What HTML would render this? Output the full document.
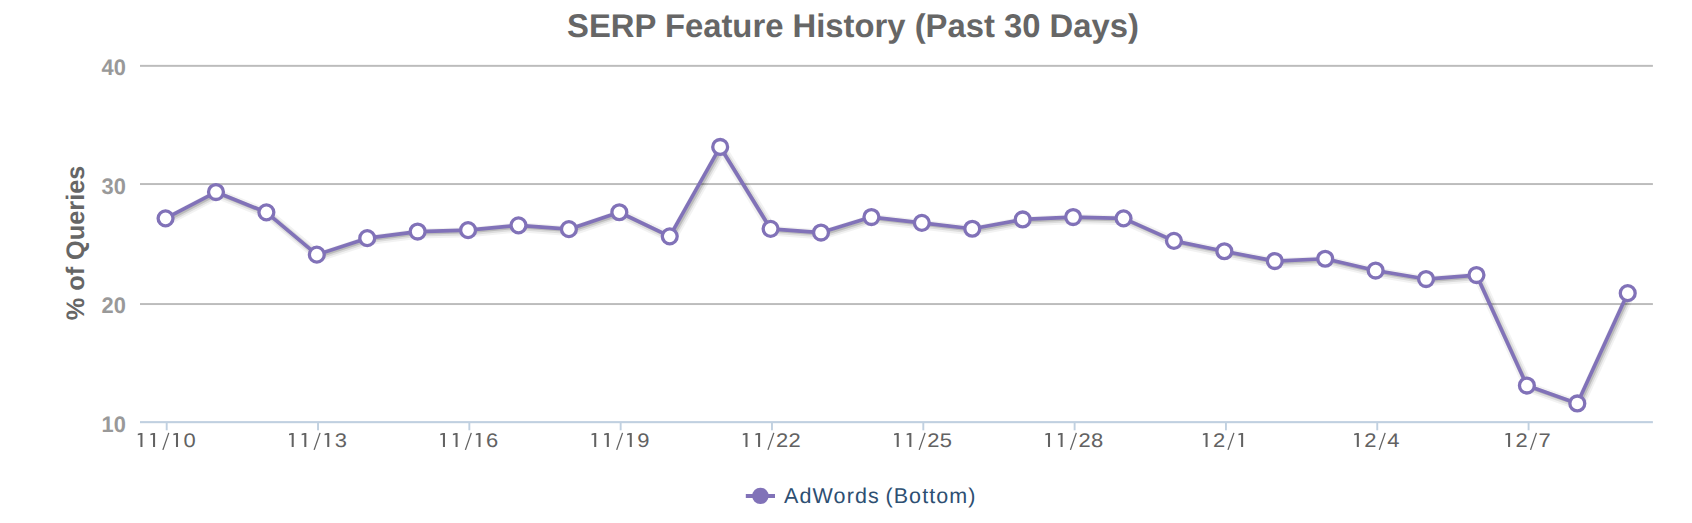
<!DOCTYPE html>
<html><head><meta charset="utf-8"><title>SERP Feature History</title>
<style>
html,body{margin:0;padding:0;background:#fff;}
body{width:1692px;height:523px;overflow:hidden;font-family:"Liberation Sans",sans-serif;}
svg{display:block;}
text{font-family:"Liberation Sans",sans-serif;text-rendering:geometricPrecision;}
</style></head><body>
<svg width="1692" height="523" viewBox="0 0 1692 523">
<rect width="1692" height="523" fill="#ffffff"/>
<rect x="140" y="64.87" width="1512.9" height="1.96" fill="#bcbcbc"/>
<rect x="140" y="183.07" width="1512.9" height="1.96" fill="#bcbcbc"/>
<rect x="140" y="303.07" width="1512.9" height="1.96" fill="#bcbcbc"/>
<rect x="140" y="421.1" width="1512.9" height="2.1" fill="#c0d0e0"/>
<rect x="165.75" y="423" width="1.9" height="7.3" fill="#c0d0e0"/>
<rect x="317.07" y="423" width="1.9" height="7.3" fill="#c0d0e0"/>
<rect x="468.39" y="423" width="1.9" height="7.3" fill="#c0d0e0"/>
<rect x="619.71" y="423" width="1.9" height="7.3" fill="#c0d0e0"/>
<rect x="771.03" y="423" width="1.9" height="7.3" fill="#c0d0e0"/>
<rect x="922.35" y="423" width="1.9" height="7.3" fill="#c0d0e0"/>
<rect x="1073.67" y="423" width="1.9" height="7.3" fill="#c0d0e0"/>
<rect x="1224.99" y="423" width="1.9" height="7.3" fill="#c0d0e0"/>
<rect x="1376.31" y="423" width="1.9" height="7.3" fill="#c0d0e0"/>
<rect x="1527.63" y="423" width="1.9" height="7.3" fill="#c0d0e0"/>
<text x="853" y="37.3" text-anchor="middle" font-size="32.8" font-weight="bold" fill="#666666">SERP Feature History (Past 30 Days)</text>
<text transform="translate(125.9,75) scale(0.975,1)" text-anchor="end" font-size="22.4" font-weight="bold" fill="#999999">40</text>
<text transform="translate(125.9,194) scale(0.975,1)" text-anchor="end" font-size="22.4" font-weight="bold" fill="#999999">30</text>
<text transform="translate(125.9,313) scale(0.975,1)" text-anchor="end" font-size="22.4" font-weight="bold" fill="#999999">20</text>
<text transform="translate(125.9,432) scale(0.975,1)" text-anchor="end" font-size="22.4" font-weight="bold" fill="#999999">10</text>
<text transform="translate(83.5,243.0) rotate(-90)" text-anchor="middle" font-size="25.3" font-weight="bold" fill="#666666">% of Queries</text>
<path d="M 140.42 432.9 H 142.47 V 447 H 140.42 V 434.7 L 137.77 435.2 V 433.7 Z" fill="#626262"/>
<path d="M 153.03 432.9 H 155.08 V 447 H 153.03 V 434.7 L 150.38 435.2 V 433.7 Z" fill="#626262"/>
<path d="M 168.79 432.9 L 162.89 449.9" stroke="#626262" stroke-width="1.3" fill="none"/>
<path d="M 175.97 432.9 H 178.02 V 447 H 175.97 V 434.7 L 173.32 435.2 V 433.7 Z" fill="#626262"/>
<text transform="translate(189.63,447) scale(1.12,1)" text-anchor="middle" font-size="19.6" fill="#626262">0</text>
<path d="M 291.67 432.9 H 293.72 V 447 H 291.67 V 434.7 L 289.02 435.2 V 433.7 Z" fill="#626262"/>
<path d="M 304.28 432.9 H 306.33 V 447 H 304.28 V 434.7 L 301.63 435.2 V 433.7 Z" fill="#626262"/>
<path d="M 320.05 432.9 L 314.14 449.9" stroke="#626262" stroke-width="1.3" fill="none"/>
<path d="M 327.22 432.9 H 329.27 V 447 H 327.22 V 434.7 L 324.57 435.2 V 433.7 Z" fill="#626262"/>
<text transform="translate(340.89,447) scale(1.12,1)" text-anchor="middle" font-size="19.6" fill="#626262">3</text>
<path d="M 442.93 432.9 H 444.98 V 447 H 442.93 V 434.7 L 440.28 435.2 V 433.7 Z" fill="#626262"/>
<path d="M 455.54 432.9 H 457.59 V 447 H 455.54 V 434.7 L 452.89 435.2 V 433.7 Z" fill="#626262"/>
<path d="M 471.31 432.9 L 465.40 449.9" stroke="#626262" stroke-width="1.3" fill="none"/>
<path d="M 478.48 432.9 H 480.53 V 447 H 478.48 V 434.7 L 475.83 435.2 V 433.7 Z" fill="#626262"/>
<text transform="translate(492.15,447) scale(1.12,1)" text-anchor="middle" font-size="19.6" fill="#626262">6</text>
<path d="M 594.19 432.9 H 596.24 V 447 H 594.19 V 434.7 L 591.54 435.2 V 433.7 Z" fill="#626262"/>
<path d="M 606.80 432.9 H 608.85 V 447 H 606.80 V 434.7 L 604.15 435.2 V 433.7 Z" fill="#626262"/>
<path d="M 622.56 432.9 L 616.66 449.9" stroke="#626262" stroke-width="1.3" fill="none"/>
<path d="M 629.75 432.9 H 631.79 V 447 H 629.75 V 434.7 L 627.09 435.2 V 433.7 Z" fill="#626262"/>
<text transform="translate(643.41,447) scale(1.12,1)" text-anchor="middle" font-size="19.6" fill="#626262">9</text>
<path d="M 745.45 432.9 H 747.50 V 447 H 745.45 V 434.7 L 742.80 435.2 V 433.7 Z" fill="#626262"/>
<path d="M 758.06 432.9 H 760.11 V 447 H 758.06 V 434.7 L 755.41 435.2 V 433.7 Z" fill="#626262"/>
<path d="M 773.82 432.9 L 767.92 449.9" stroke="#626262" stroke-width="1.3" fill="none"/>
<text transform="translate(782.06,447) scale(1.12,1)" text-anchor="middle" font-size="19.6" fill="#626262">2</text>
<text transform="translate(794.67,447) scale(1.12,1)" text-anchor="middle" font-size="19.6" fill="#626262">2</text>
<path d="M 896.71 432.9 H 898.76 V 447 H 896.71 V 434.7 L 894.06 435.2 V 433.7 Z" fill="#626262"/>
<path d="M 909.32 432.9 H 911.37 V 447 H 909.32 V 434.7 L 906.67 435.2 V 433.7 Z" fill="#626262"/>
<path d="M 925.08 432.9 L 919.18 449.9" stroke="#626262" stroke-width="1.3" fill="none"/>
<text transform="translate(933.32,447) scale(1.12,1)" text-anchor="middle" font-size="19.6" fill="#626262">2</text>
<text transform="translate(945.93,447) scale(1.12,1)" text-anchor="middle" font-size="19.6" fill="#626262">5</text>
<path d="M 1047.98 432.9 H 1050.03 V 447 H 1047.98 V 434.7 L 1045.33 435.2 V 433.7 Z" fill="#626262"/>
<path d="M 1060.59 432.9 H 1062.63 V 447 H 1060.59 V 434.7 L 1057.93 435.2 V 433.7 Z" fill="#626262"/>
<path d="M 1076.34 432.9 L 1070.44 449.9" stroke="#626262" stroke-width="1.3" fill="none"/>
<text transform="translate(1084.58,447) scale(1.12,1)" text-anchor="middle" font-size="19.6" fill="#626262">2</text>
<text transform="translate(1097.19,447) scale(1.12,1)" text-anchor="middle" font-size="19.6" fill="#626262">8</text>
<path d="M 1205.54 432.9 H 1207.59 V 447 H 1205.54 V 434.7 L 1202.89 435.2 V 433.7 Z" fill="#626262"/>
<text transform="translate(1219.21,447) scale(1.12,1)" text-anchor="middle" font-size="19.6" fill="#626262">2</text>
<path d="M 1233.91 432.9 L 1228.01 449.9" stroke="#626262" stroke-width="1.3" fill="none"/>
<path d="M 1241.09 432.9 H 1243.14 V 447 H 1241.09 V 434.7 L 1238.44 435.2 V 433.7 Z" fill="#626262"/>
<path d="M 1356.80 432.9 H 1358.85 V 447 H 1356.80 V 434.7 L 1354.15 435.2 V 433.7 Z" fill="#626262"/>
<text transform="translate(1370.47,447) scale(1.12,1)" text-anchor="middle" font-size="19.6" fill="#626262">2</text>
<path d="M 1385.17 432.9 L 1379.27 449.9" stroke="#626262" stroke-width="1.3" fill="none"/>
<text transform="translate(1393.40,447) scale(1.12,1)" text-anchor="middle" font-size="19.6" fill="#626262">4</text>
<path d="M 1508.06 432.9 H 1510.11 V 447 H 1508.06 V 434.7 L 1505.41 435.2 V 433.7 Z" fill="#626262"/>
<text transform="translate(1521.73,447) scale(1.12,1)" text-anchor="middle" font-size="19.6" fill="#626262">2</text>
<path d="M 1536.43 432.9 L 1530.53 449.9" stroke="#626262" stroke-width="1.3" fill="none"/>
<text transform="translate(1544.66,447) scale(1.12,1)" text-anchor="middle" font-size="19.6" fill="#626262">7</text>
<path d="M 165.55 218.35 L 215.97 192.05 L 266.39 212.35 L 316.81 254.65 L 367.23 238.15 L 417.65 231.55 L 468.07 230.15 L 518.49 225.35 L 568.91 229.15 L 619.33 212.25 L 669.75 236.35 L 720.17 146.95 L 770.59 228.85 L 821.01 232.55 L 871.43 217.05 L 921.85 222.85 L 972.27 228.75 L 1022.69 219.45 L 1073.11 217.05 L 1123.53 218.35 L 1173.95 240.85 L 1224.37 251.25 L 1274.79 261.05 L 1325.21 258.75 L 1375.63 270.55 L 1426.05 279.05 L 1476.47 275.05 L 1526.89 385.55 L 1577.31 403.45 L 1627.73 293.15" transform="translate(2,2)" fill="none" stroke="#000" stroke-opacity="0.05" stroke-width="10" stroke-linejoin="round" stroke-linecap="round"/>
<path d="M 165.55 218.35 L 215.97 192.05 L 266.39 212.35 L 316.81 254.65 L 367.23 238.15 L 417.65 231.55 L 468.07 230.15 L 518.49 225.35 L 568.91 229.15 L 619.33 212.25 L 669.75 236.35 L 720.17 146.95 L 770.59 228.85 L 821.01 232.55 L 871.43 217.05 L 921.85 222.85 L 972.27 228.75 L 1022.69 219.45 L 1073.11 217.05 L 1123.53 218.35 L 1173.95 240.85 L 1224.37 251.25 L 1274.79 261.05 L 1325.21 258.75 L 1375.63 270.55 L 1426.05 279.05 L 1476.47 275.05 L 1526.89 385.55 L 1577.31 403.45 L 1627.73 293.15" transform="translate(2,2)" fill="none" stroke="#000" stroke-opacity="0.09" stroke-width="6" stroke-linejoin="round" stroke-linecap="round"/>
<path d="M 165.55 218.35 L 215.97 192.05 L 266.39 212.35 L 316.81 254.65 L 367.23 238.15 L 417.65 231.55 L 468.07 230.15 L 518.49 225.35 L 568.91 229.15 L 619.33 212.25 L 669.75 236.35 L 720.17 146.95 L 770.59 228.85 L 821.01 232.55 L 871.43 217.05 L 921.85 222.85 L 972.27 228.75 L 1022.69 219.45 L 1073.11 217.05 L 1123.53 218.35 L 1173.95 240.85 L 1224.37 251.25 L 1274.79 261.05 L 1325.21 258.75 L 1375.63 270.55 L 1426.05 279.05 L 1476.47 275.05 L 1526.89 385.55 L 1577.31 403.45 L 1627.73 293.15" transform="translate(2,2)" fill="none" stroke="#000" stroke-opacity="0.15" stroke-width="2.4" stroke-linejoin="round" stroke-linecap="round"/>
<path d="M 165.55 218.35 L 215.97 192.05 L 266.39 212.35 L 316.81 254.65 L 367.23 238.15 L 417.65 231.55 L 468.07 230.15 L 518.49 225.35 L 568.91 229.15 L 619.33 212.25 L 669.75 236.35 L 720.17 146.95 L 770.59 228.85 L 821.01 232.55 L 871.43 217.05 L 921.85 222.85 L 972.27 228.75 L 1022.69 219.45 L 1073.11 217.05 L 1123.53 218.35 L 1173.95 240.85 L 1224.37 251.25 L 1274.79 261.05 L 1325.21 258.75 L 1375.63 270.55 L 1426.05 279.05 L 1476.47 275.05 L 1526.89 385.55 L 1577.31 403.45 L 1627.73 293.15" fill="none" stroke="#8172b8" stroke-width="3.7" stroke-linejoin="round" stroke-linecap="round"/>
<circle cx="165.55" cy="218.35" r="7.45" fill="#fff" stroke="#8172b8" stroke-width="3.3"/>
<circle cx="215.97" cy="192.05" r="7.45" fill="#fff" stroke="#8172b8" stroke-width="3.3"/>
<circle cx="266.39" cy="212.35" r="7.45" fill="#fff" stroke="#8172b8" stroke-width="3.3"/>
<circle cx="316.81" cy="254.65" r="7.45" fill="#fff" stroke="#8172b8" stroke-width="3.3"/>
<circle cx="367.23" cy="238.15" r="7.45" fill="#fff" stroke="#8172b8" stroke-width="3.3"/>
<circle cx="417.65" cy="231.55" r="7.45" fill="#fff" stroke="#8172b8" stroke-width="3.3"/>
<circle cx="468.07" cy="230.15" r="7.45" fill="#fff" stroke="#8172b8" stroke-width="3.3"/>
<circle cx="518.49" cy="225.35" r="7.45" fill="#fff" stroke="#8172b8" stroke-width="3.3"/>
<circle cx="568.91" cy="229.15" r="7.45" fill="#fff" stroke="#8172b8" stroke-width="3.3"/>
<circle cx="619.33" cy="212.25" r="7.45" fill="#fff" stroke="#8172b8" stroke-width="3.3"/>
<circle cx="669.75" cy="236.35" r="7.45" fill="#fff" stroke="#8172b8" stroke-width="3.3"/>
<circle cx="720.17" cy="146.95" r="7.45" fill="#fff" stroke="#8172b8" stroke-width="3.3"/>
<circle cx="770.59" cy="228.85" r="7.45" fill="#fff" stroke="#8172b8" stroke-width="3.3"/>
<circle cx="821.01" cy="232.55" r="7.45" fill="#fff" stroke="#8172b8" stroke-width="3.3"/>
<circle cx="871.43" cy="217.05" r="7.45" fill="#fff" stroke="#8172b8" stroke-width="3.3"/>
<circle cx="921.85" cy="222.85" r="7.45" fill="#fff" stroke="#8172b8" stroke-width="3.3"/>
<circle cx="972.27" cy="228.75" r="7.45" fill="#fff" stroke="#8172b8" stroke-width="3.3"/>
<circle cx="1022.69" cy="219.45" r="7.45" fill="#fff" stroke="#8172b8" stroke-width="3.3"/>
<circle cx="1073.11" cy="217.05" r="7.45" fill="#fff" stroke="#8172b8" stroke-width="3.3"/>
<circle cx="1123.53" cy="218.35" r="7.45" fill="#fff" stroke="#8172b8" stroke-width="3.3"/>
<circle cx="1173.95" cy="240.85" r="7.45" fill="#fff" stroke="#8172b8" stroke-width="3.3"/>
<circle cx="1224.37" cy="251.25" r="7.45" fill="#fff" stroke="#8172b8" stroke-width="3.3"/>
<circle cx="1274.79" cy="261.05" r="7.45" fill="#fff" stroke="#8172b8" stroke-width="3.3"/>
<circle cx="1325.21" cy="258.75" r="7.45" fill="#fff" stroke="#8172b8" stroke-width="3.3"/>
<circle cx="1375.63" cy="270.55" r="7.45" fill="#fff" stroke="#8172b8" stroke-width="3.3"/>
<circle cx="1426.05" cy="279.05" r="7.45" fill="#fff" stroke="#8172b8" stroke-width="3.3"/>
<circle cx="1476.47" cy="275.05" r="7.45" fill="#fff" stroke="#8172b8" stroke-width="3.3"/>
<circle cx="1526.89" cy="385.55" r="7.45" fill="#fff" stroke="#8172b8" stroke-width="3.3"/>
<circle cx="1577.31" cy="403.45" r="7.45" fill="#fff" stroke="#8172b8" stroke-width="3.3"/>
<circle cx="1627.73" cy="293.15" r="7.45" fill="#fff" stroke="#8172b8" stroke-width="3.3"/>
<rect x="745.8" y="494" width="29.2" height="4" fill="#8172b8"/>
<circle cx="760.4" cy="495.9" r="8.2" fill="#8172b8"/>
<text x="784.1" y="502.8" font-size="21.5" letter-spacing="1.1" word-spacing="-1.5" fill="#2d4f72">AdWords (Bottom)</text>
</svg></body></html>
